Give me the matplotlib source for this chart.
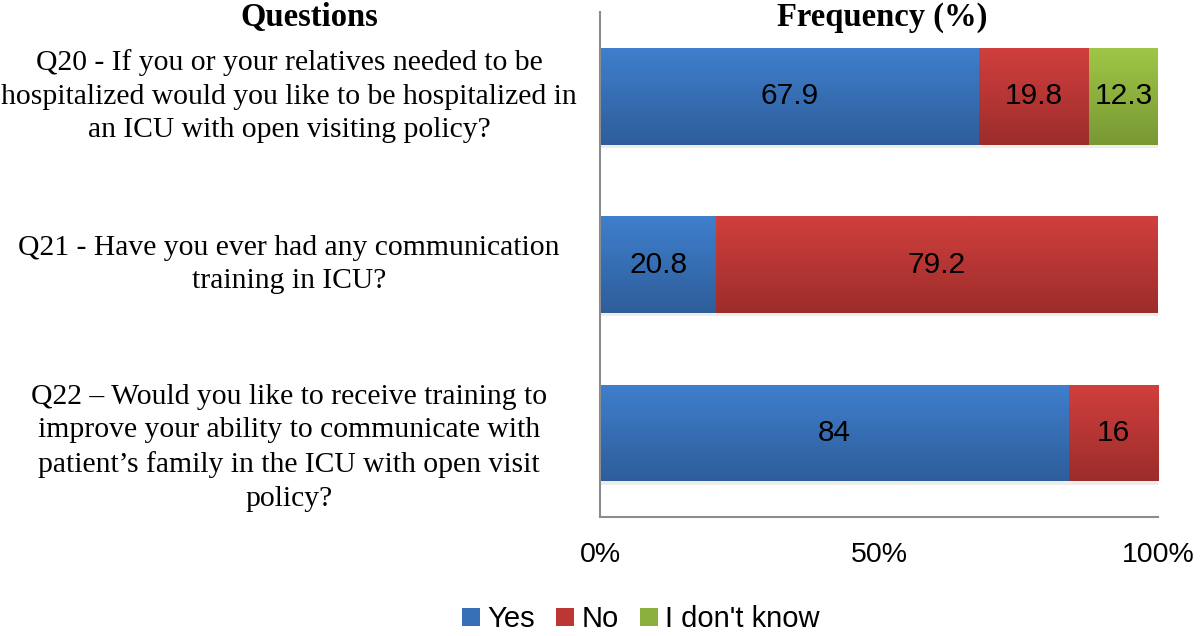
import numpy as np
import matplotlib.pyplot as plt
from matplotlib.colors import LinearSegmentedColormap
from matplotlib.patches import Patch

questions = [
    "Q20 - If you or your relatives needed to be\nhospitalized would you like to be hospitalized in\nan ICU with open visiting policy?",
    "Q21 - Have you ever had any communication\ntraining in ICU?",
    "Q22 \u2013 Would you like to receive training to\nimprove your ability to communicate with\npatient\u2019s family in the ICU with open visit\npolicy?",
]
yes = [67.9, 20.8, 84]
no = [19.8, 79.2, 16]
dont_know = [12.3, 0, 0]
series_names = ["Yes", "No", "I don't know"]
xticks = [0, 50, 100]
xtick_labels = ["0%", "50%", "100%"]

# top / bottom colours of the gradient fill
colors = [("#3f7fcd", "#2e5d9a"), ("#d03f3d", "#9c2d2b"), ("#9fc646", "#789834")]
mid = ["#3870b8", "#bc3734", "#8cb03e"]
label_shift = [0, 0, -15]  # pixel nudge of each question text

fig = plt.figure(figsize=(12, 6.36), dpi=100)
ax = fig.add_axes([0.5, 0.187, 0.465, 0.794])

y = np.arange(len(questions))
total = np.array(yes) + np.array(no) + np.array(dont_know)
# soft shadow under each bar
ax.barh(y + 0.02, total, height=0.575, color="#000000", alpha=0.07, zorder=1)

left = np.zeros(len(questions))
for vals, name, (ctop, cbot) in zip([yes, no, dont_know], series_names, colors):
    bars = ax.barh(y, vals, left=left, height=0.575, color="none", edgecolor="none")
    cmap = LinearSegmentedColormap.from_list("g", [ctop, cbot])
    for b, v in zip(bars, vals):
        if v == 0:
            continue
        x0, y0 = b.get_x(), b.get_y()
        w, h = b.get_width(), b.get_height()
        im = ax.imshow(np.linspace(0, 1, 64).reshape(-1, 1), cmap=cmap, aspect="auto",
                       extent=[x0, x0 + w, y0 + h, y0], origin="upper", zorder=2)
        im.set_clip_path(b)
        ax.text(x0 + w / 2, y0 + h / 2, f"{v:g}", ha="center", va="center",
                fontsize=21.5, family="Liberation Sans", color="black", zorder=3)
    left = left + np.array(vals)

ax.set_xlim(0, 100)
ax.set_ylim(2.5, -0.5)
ax.set_xticks(xticks)
ax.set_xticklabels(xtick_labels, family="Liberation Sans", fontsize=20.5)
ax.tick_params(axis="x", length=0, pad=18)
ax.set_yticks(y)
ax.set_yticklabels([])
ax.tick_params(axis="y", length=0)
for s in ["top", "right"]:
    ax.spines[s].set_visible(False)
for s in ["left", "bottom"]:
    ax.spines[s].set_color("#8c8c8c")
    ax.spines[s].set_linewidth(1.5)

for yi, q, dy in zip(y, questions, label_shift):
    ax.annotate(q, xy=(0, yi), xycoords=("axes fraction", "data"),
                xytext=(-311, dy), textcoords="offset pixels",
                ha="center", va="center", multialignment="center",
                family="Liberation Serif", fontsize=21.3, linespacing=1.38)

fig.text(0.2575, 0.972, "Questions", ha="center", va="center",
         family="Liberation Serif", fontsize=23.5, fontweight="bold")
fig.text(0.735, 0.972, "Frequency (%)", ha="center", va="center",
         family="Liberation Serif", fontsize=23.5, fontweight="bold")

handles = [Patch(facecolor=c, edgecolor="none") for c in mid]
fig.legend(handles, series_names, loc="center", bbox_to_anchor=(0.534, 0.026),
           ncol=3, frameon=False, prop={"family": "Liberation Sans", "size": 21},
           handlelength=0.6, handleheight=0.6, handletextpad=0.25, columnspacing=0.75)

fig.savefig("out.png", dpi=100)
